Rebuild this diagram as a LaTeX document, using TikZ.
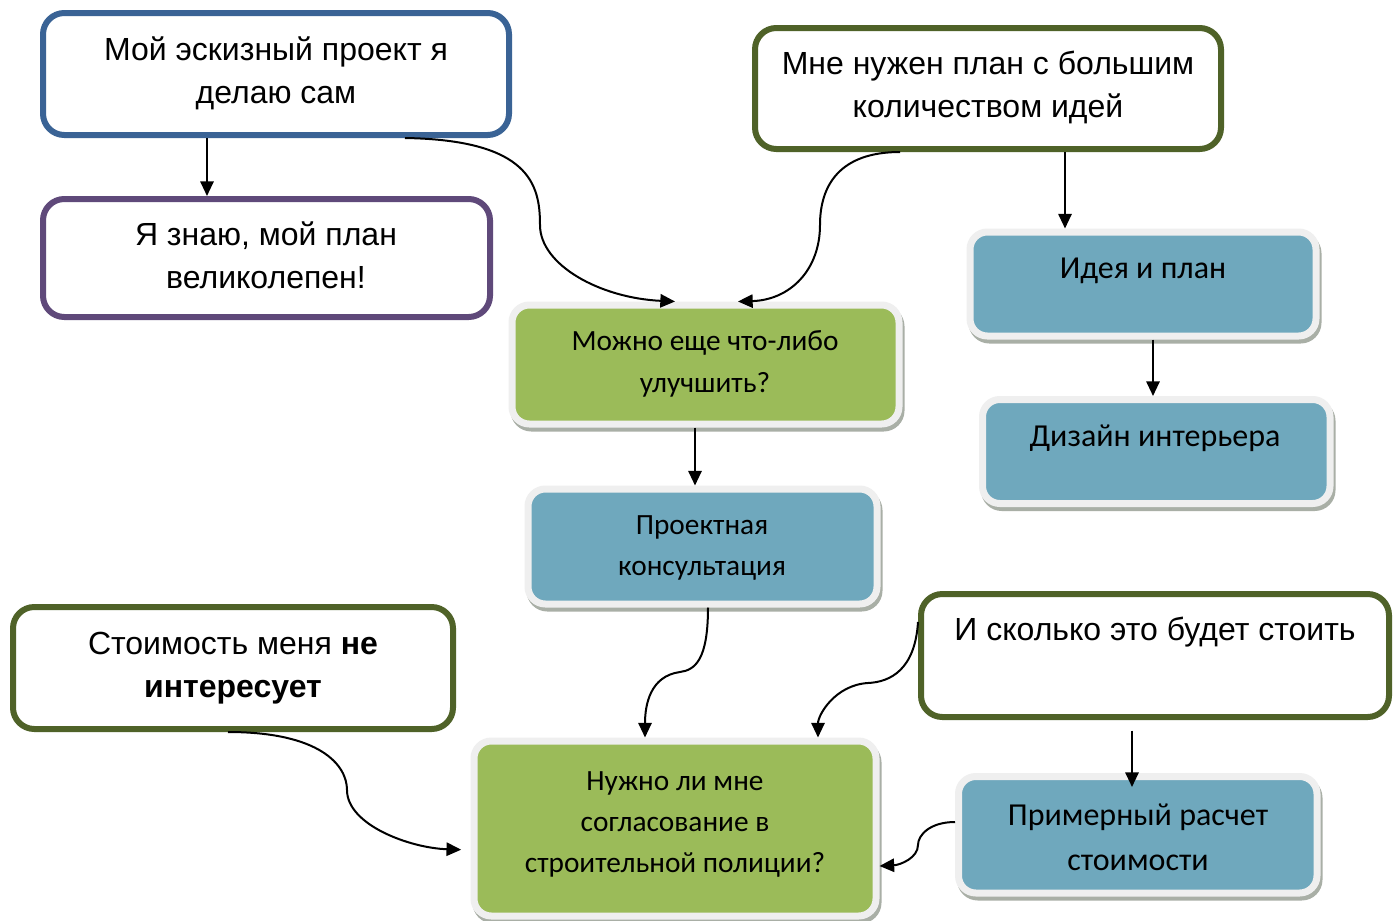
\documentclass[tikz,border=0pt]{standalone}
\usepackage{fontspec}
\newfontfamily\arialf{Liberation Sans}
\newfontfamily\calibf{Carlito}
\usetikzlibrary{arrows.meta,fit,calc}
\definecolor{bordblue}{HTML}{3A6395}
\definecolor{bordpurp}{HTML}{5F497A}
\definecolor{bordolive}{HTML}{4F6228}
\definecolor{fillgreen}{HTML}{9BBB59}
\definecolor{fillblue}{HTML}{6FA8BD}
\definecolor{rimgray}{HTML}{EFEFEF}
\definecolor{shadowgray}{HTML}{A9AFA6}
\begin{document}
\begin{tikzpicture}[x=0.75pt,y=-0.75pt,
 wbox/.style={draw, line width=4.5pt, rounded corners=16pt, fill=white, inner sep=0pt},
 cbox/.style={draw=rimgray, line width=5.25pt, rounded corners=13pt, inner sep=0pt,
   preaction={draw=shadowgray, line width=5.25pt, transform canvas={xshift=1.5pt,yshift=-3pt}}},
 atext/.style={font=\arialf\fontsize{24}{28}\selectfont, anchor=base, inner sep=0pt},
 ctext/.style={font=\calibf\fontsize{22}{26}\selectfont, anchor=base, inner sep=0pt},
 ctextl/.style={font=\calibf\fontsize{24}{28}\selectfont, anchor=base, inner sep=0pt},
 arr/.style={line width=1.5pt, -{Triangle[length=11pt,width=10pt]}}]
\useasboundingbox[fill=white] (0,0) rectangle (1400,921);

% white boxes
\node[wbox, draw=bordblue, fit={(43,13) (509,135)}] (b1) {};
\node[wbox, draw=bordpurp, fit={(43,199) (490,317)}] (b2) {};
\node[wbox, draw=bordolive, fit={(755,28) (1221,149)}] (b3) {};
\node[wbox, draw=bordolive, fit={(13,607) (453,729)}] (b8) {};
\node[wbox, draw=bordolive, fit={(921,594) (1389,717)}] (b9) {};

% coloured boxes
\node[cbox, fill=fillgreen, fit={(512,305) (899,424)}] (b4) {};
\node[cbox, fill=fillblue, fit={(970,232) (1316,336)}] (b5) {};
\node[cbox, fill=fillblue, fit={(982.5,399.5) (1330,503.5)}] (b6) {};
\node[cbox, fill=fillblue, fit={(528,489) (877,604)}] (b7) {};
\node[cbox, fill=fillgreen, fit={(474,741) (876,916)}] (b10) {};
\node[cbox, fill=fillblue, fit={(958.5,776.5) (1317,893)}] (b11) {};

% texts
\node[atext] (t1a) at (276,60) {Мой эскизный проект я};
\node[atext] (t1b) at (276,103) {делаю сам};
\node[atext] (t2a) at (266,245) {Я знаю, мой план};
\node[atext] (t2b) at (266,288) {великолепен!};
\node[atext] (t3a) at (988,74) {Мне нужен план с большим};
\node[atext] (t3b) at (988,117) {количеством идей};
\node[atext] (t8a) at (233,654) {Стоимость меня \textbf{не}};
\node[atext] (t8b) at (233,697) {\textbf{интересует}};
\node[atext] (t9a) at (1155,640) {И сколько это будет стоить};

\node[ctext] (t4a) at (705,350) {Можно еще что-либо};
\node[ctext] (t4b) at (705,392) {улучшить?};
\node[ctextl] (t5a) at (1143,278) {Идея и план};
\node[ctextl] (t6a) at (1155,446) {Дизайн интерьера};
\node[ctext] (t7a) at (702,534) {Проектная};
\node[ctext] (t7b) at (702,575) {консультация};
\node[ctext] (t10a) at (675,790) {Нужно ли мне};
\node[ctext] (t10b) at (675,831) {согласование в};
\node[ctext] (t10c) at (675,872) {строительной полиции?};
\node[ctextl] (t11a) at (1138,825) {Примерный расчет};
\node[ctextl] (t11b) at (1138,870) {стоимости};

% connectors
\draw[arr] (b1.south -| 207,0) -- (b2.north -| 207,0);
\draw[arr] (b1.south -| 405,0) .. controls (530,140) and (540,185) .. (540,225)
  .. controls (540,265) and (600,298) .. (b4.north -| 675,0);
\draw[arr] (b3.south -| 900,0) .. controls (840,152) and (820,185) .. (820,225)
  .. controls (820,270) and (790,300) .. (b4.north -| 738,0);
\draw[arr] (b3.south -| 1065,0) -- (b5.north -| 1065,0);
\draw[arr] (b5.south -| 1153,0) -- (b6.north -| 1153,0);
\draw[arr] (b4.south -| 695,0) -- (b7.north -| 695,0);
\draw[arr] (b7.south -| 708,0) .. controls (708,660) and (695,670) .. (680,672)
  .. controls (650,676) and (645,705) .. (b10.north -| 645,0);
\draw[arr] (b9.west |- 0,622) .. controls (915,670) and (890,682) .. (868,683)
  .. controls (835,685) and (818,715) .. (b10.north -| 818,0);
\draw[arr, shorten >=7pt] (b8.south -| 228,0) .. controls (320,732) and (347,765) .. (347,790)
  .. controls (347,825) and (410,848) .. (b10.west |- 0,850);
\draw[arr, shorten <=8pt] (b9.south -| 1132,0) -- ($(b11.north -| 1132,0)+(0,14)$);
\draw[arr] (b11.west |- 0,822) .. controls (930,822) and (918,835) .. (918,845)
  .. controls (918,858) and (900,865) .. (b10.east |- 0,866);
\end{tikzpicture}
\end{document}
